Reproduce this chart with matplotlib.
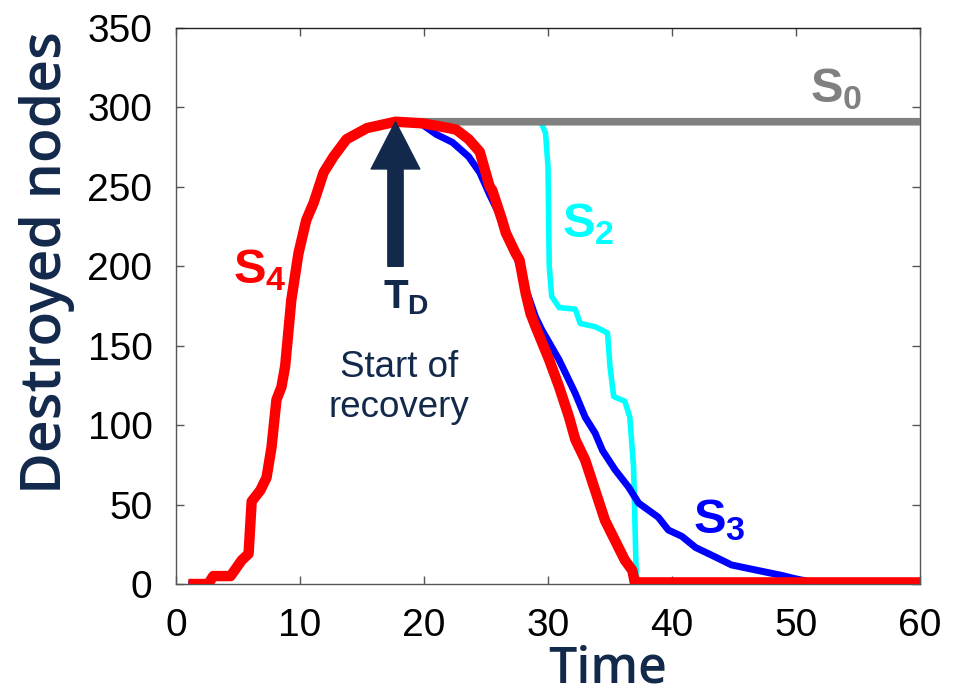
import matplotlib
matplotlib.use("Agg")
import matplotlib.pyplot as plt

plt.rcParams["mathtext.fontset"] = "custom"
plt.rcParams["mathtext.bf"] = "Liberation Sans:bold"
plt.rcParams["mathtext.rm"] = "Liberation Sans"

NAVY = "#13294B"

# shared rise (all scenarios identical until T_D)
rise_t = [1.0, 2.6, 3.0, 4.4, 5.3, 5.85, 6.1, 6.8, 7.3, 7.7, 8.1, 8.5, 8.8, 9.05,
          9.3, 9.46, 9.87, 10.5, 11.1, 11.9, 12.7, 13.75, 15.4, 17.7]
rise_y = [0, 0, 5, 5, 15, 19, 52, 59, 67, 86, 116, 124, 137, 158,
          179, 187, 208, 229, 240, 259, 269, 280, 287, 291]

# S0: no recovery
s0_t = [60.0]
s0_y = [291]

# S2
s2_t = [29.4, 29.8, 30.0, 30.1, 30.3, 30.9, 32.2, 32.6, 33.8, 34.8, 35.0, 35.3,
        36.2, 36.6, 36.9, 37.1, 37.2, 60.0]
s2_y = [291, 284, 263, 200, 181, 174, 173, 164, 162, 158, 137, 118,
        115, 105, 74, 11, 0, 0]

# S3
s3_t = [19.9, 21.0, 22.3, 23.6, 24.5, 25.3, 26.3, 27.4, 28.2, 29.0, 29.5, 30.9,
        32.2, 33.0, 33.8, 34.4, 35.4, 36.5, 37.3, 38.9, 39.7, 40.8, 41.9, 43.5,
        44.8, 47.5, 48.8, 49.9, 51.4]
s3_y = [289, 283, 278, 269, 259, 245, 229, 208, 186, 168, 160, 141,
        120, 105, 95, 84, 72, 61, 51, 42, 34, 30, 23, 17,
        12, 7.6, 5.5, 3.4, 1]

# S4
s4_t = [19.9, 22.0, 22.6, 23.6, 24.5, 25.3, 25.5, 26.3, 26.6, 27.4, 27.7, 28.2,
        28.6, 29.0, 30.1, 30.9, 31.7, 32.2, 33.0, 33.8, 34.6, 35.4, 36.2, 36.8,
        37.0, 60.0]
s4_y = [290, 287, 286, 280, 272, 250, 248, 229, 221, 208, 204, 183,
        170, 162, 141, 124, 105, 91, 78, 59, 40, 27.5, 15, 8.6,
        1, 1]

t_d = 17.7

fig = plt.figure(figsize=(9.63, 6.95), dpi=100)
ax = fig.add_axes([0.1828, 0.1597, 0.7725, 0.8])

line_kw = dict(solid_joinstyle="round", solid_capstyle="butt")
ax.plot(rise_t + s2_t, rise_y + s2_y, color="#00FFFF", lw=4, zorder=2, **line_kw)
ax.plot(rise_t + s0_t, rise_y + s0_y, color="#808080", lw=5.5, zorder=3, **line_kw)
ax.plot(rise_t + s3_t, rise_y + s3_y, color="#0000FF", lw=5, zorder=4, **line_kw)
ax.plot(rise_t + s4_t, rise_y + s4_y, color="#FF0000", lw=7.5, zorder=5, **line_kw)

lab_kw = dict(fontsize=35, ha="left", va="baseline", zorder=6)
ax.text(51.1, 303, r"$\mathbf{S_0}$", color="#808080", **lab_kw)
ax.text(31.1, 218, r"$\mathbf{S_2}$", color="#00FFFF", **lab_kw)
ax.text(41.7, 31.8, r"$\mathbf{S_3}$", color="#0000FF", **lab_kw)
ax.text(4.6, 189.5, r"$\mathbf{S_4}$", color="#FF0000", **lab_kw)

# T_D arrow
ax.annotate("", xy=(t_d, 291), xytext=(t_d, 200),
            arrowprops=dict(arrowstyle="simple,head_length=3.4,head_width=3.5,tail_width=1.1",
                            mutation_scale=10, color=NAVY, shrinkA=0, shrinkB=0),
            zorder=7)
ax.text(16.7, 173.8, r"$\mathbf{T_D}$", color=NAVY, fontsize=29,
        ha="left", va="baseline")
ax.text(18.0, 147, "Start of\nrecovery", color=NAVY, fontsize=26.5,
        family="Liberation Sans", ha="center", va="top", linespacing=1.15)

ax.set_xlim(0, 60)
ax.set_ylim(0, 350)
ax.set_xticks([0, 10, 20, 30, 40, 50, 60])
ax.set_yticks([0, 50, 100, 150, 200, 250, 300, 350])
ax.tick_params(direction="in", top=True, right=True, length=6, width=1,
               color="#555555", labelsize=28, pad=17)
for lbl in ax.get_xticklabels() + ax.get_yticklabels():
    lbl.set_family("Liberation Sans")
for sp in ax.spines.values():
    sp.set_color("#555555")
    sp.set_linewidth(1)
ax.spines["top"].set_color("#222222")

ax.set_xlabel("Time", fontsize=36, color=NAVY, family="Open Sans",
              fontweight="semibold")
ax.set_ylabel("Destroyed nodes", fontsize=41, color=NAVY, family="Open Sans",
              fontweight="semibold")
ax.xaxis.set_label_coords(0.58, -0.108)
ax.yaxis.set_label_coords(-0.136, 0.578)

fig.savefig("out.png", dpi=100)
